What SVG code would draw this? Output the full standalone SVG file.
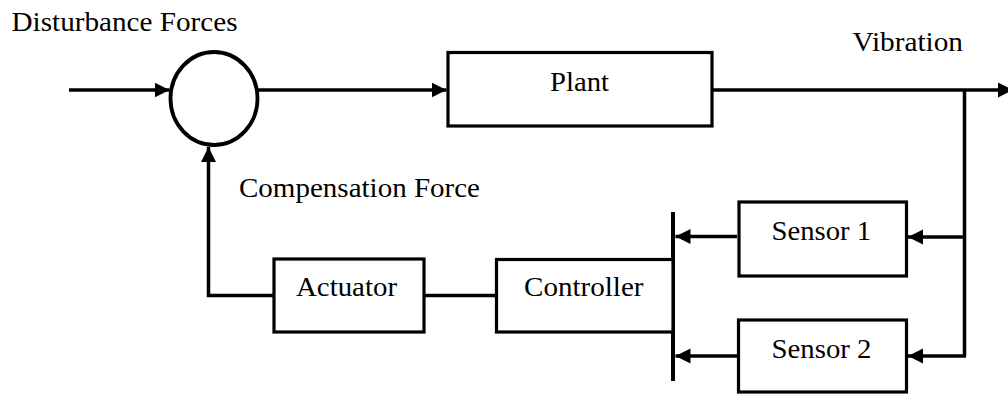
<svg xmlns="http://www.w3.org/2000/svg" width="1008" height="394" viewBox="0 0 1008 394">
<style>
  .box { fill: #fff; stroke: #000; stroke-width: 3.2; }
  .ln { fill: none; stroke: #000; stroke-width: 3.5; }
  .t { font-family: "Liberation Serif", "Times New Roman", serif; font-size: 28px; fill: #000; }
</style>
<defs>
  <marker id="ah" markerUnits="userSpaceOnUse" markerWidth="16" markerHeight="16" refX="15" refY="8" orient="auto">
    <path d="M0,0.5 L15,8 L0,15.5 z" fill="#000"/>
  </marker>
</defs>
<rect width="1008" height="394" fill="#fff"/>
<g id="connectors">
  <line class="ln" x1="69" y1="90" x2="169.5" y2="90" marker-end="url(#ah)"/>
  <line class="ln" x1="258" y1="90" x2="446.5" y2="90" marker-end="url(#ah)"/>
  <line class="ln" x1="712" y1="90" x2="1013" y2="90" marker-end="url(#ah)"/>
  <line class="ln" x1="964.5" y1="90" x2="964.5" y2="356.5"/>
  <line class="ln" x1="966" y1="237" x2="908" y2="237" marker-end="url(#ah)"/>
  <line class="ln" x1="966" y1="356" x2="908" y2="356" marker-end="url(#ah)"/>
  <line class="ln" x1="737" y1="236.5" x2="675.5" y2="236.5" marker-end="url(#ah)"/>
  <line class="ln" x1="737" y1="356" x2="675.5" y2="356" marker-end="url(#ah)"/>
  <line x1="673" y1="212" x2="673" y2="381" stroke="#000" stroke-width="4"/>
  <line class="ln" x1="424" y1="295.5" x2="496" y2="295.5"/>
  <path class="ln" d="M274,295.5 H208.5 V147" marker-end="url(#ah)"/>
</g>
<g id="summing">
  <ellipse cx="214" cy="98.5" rx="43.5" ry="46.5" fill="#fff" stroke="#000" stroke-width="3.8"/>
</g>
<g id="plant">
  <rect class="box" x="448" y="52.5" width="264" height="73.5"/>
  <text class="t" x="550" y="91" textLength="59" lengthAdjust="spacingAndGlyphs">Plant</text>
</g>
<g id="sensor1">
  <rect class="box" x="739" y="202" width="167.5" height="74"/>
  <text class="t" x="771.5" y="239.5" textLength="99.5" lengthAdjust="spacingAndGlyphs">Sensor 1</text>
</g>
<g id="sensor2">
  <rect class="box" x="738.5" y="320" width="168" height="72"/>
  <text class="t" x="771.5" y="357.5" textLength="100" lengthAdjust="spacingAndGlyphs">Sensor 2</text>
</g>
<g id="controller">
  <rect class="box" x="496.5" y="259.5" width="176.5" height="72.5"/>
  <text class="t" x="524" y="296" textLength="119.5" lengthAdjust="spacingAndGlyphs">Controller</text>
</g>
<g id="actuator">
  <rect class="box" x="274" y="259" width="150" height="73"/>
  <text class="t" x="296" y="296" textLength="101" lengthAdjust="spacingAndGlyphs">Actuator</text>
</g>
<g id="labels">
  <text class="t" x="11.5" y="31" textLength="226" lengthAdjust="spacingAndGlyphs">Disturbance Forces</text>
  <text class="t" x="852.5" y="51" textLength="110.5" lengthAdjust="spacingAndGlyphs">Vibration</text>
  <text class="t" x="239" y="197" textLength="241" lengthAdjust="spacingAndGlyphs">Compensation Force</text>
</g>
</svg>
